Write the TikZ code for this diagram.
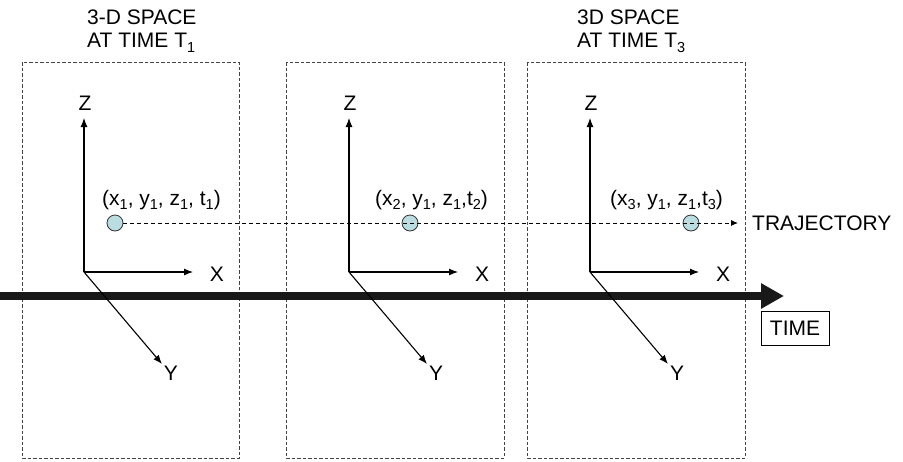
\documentclass[tikz,border=0pt]{standalone}
\usepackage{fontspec}
\setmainfont{Liberation Sans}
\usetikzlibrary{arrows.meta}
\definecolor{ptfill}{HTML}{B9DDE0}
\definecolor{boxgray}{HTML}{444444}
\newcommand\sbs[1]{\raisebox{-0.45ex}{\fontsize{14.5}{14.5}\selectfont #1}}
\begin{document}
\begin{tikzpicture}[x=1pt,y=-1pt,
  every node/.style={font=\fontsize{21}{23}\selectfont, inner sep=0pt},
  spacebox/.style={draw=boxgray, line width=0.9pt, dash pattern=on 3.5pt off 2pt},
  axis/.style={draw=black, line width=1.1pt, -{Latex[length=9pt,width=7pt]}},
  traj/.style={draw=black, line width=0.9pt, dash pattern=on 4pt off 3pt, -{Latex[length=7pt,width=6pt]}},
  pt/.style={circle, draw=black!80, line width=0.8pt, fill=ptfill, minimum size=16pt},
  timeline/.style={draw=black!90, line width=7.5pt, -{Triangle[length=23pt,width=24pt]}},
  timebox/.style={draw=black, line width=0.8pt, minimum width=68pt, minimum height=34pt}]
\useasboundingbox (0,0) rectangle (903,461);

% dashed space boxes
\draw[spacebox] (22,62) rectangle (239,458);
\draw[spacebox] (286,62) rectangle (504,458);
\draw[spacebox] (527,62) rectangle (745,458);

% titles
\node[anchor=north west, align=left] (title1) at (87,10) {3-D SPACE\\AT TIME T\sbs{1}};
\node[anchor=north west, align=left] (title3) at (577,10) {3D SPACE\\AT TIME T\sbs{3}};

% time line
\coordinate (tstart) at (0,296);
\coordinate (tend) at (784,296);
\draw[timeline] (tstart) -- (tend);
\node[timebox] (time) at (795,328) {TIME};

% axes
\foreach \i/\ox in {1/84, 2/349, 3/590}{
  \coordinate (o\i) at (\ox,272);
  \coordinate (zt\i) at (\ox,118);
  \coordinate (xt\i) at (\ox+109,272);
  \coordinate (yt\i) at (\ox+78,364);
  \draw[axis] (o\i) -- (zt\i);
  \draw[axis] (o\i) -- (xt\i);
  \draw[axis] (o\i) -- (yt\i);
  \node (zl\i) at (\ox+1,103) {Z};
  \node (xl\i) at (\ox+133,274.5) {X};
  \node (yl\i) at (\ox+87,373) {Y};
}

% trajectory points
\node[pt] (p1) at (115,223) {};
\node[pt] (p2) at (410,223) {};
\node[pt] (p3) at (691,223) {};
\coordinate (tr) at (738,223);
\draw[traj] (p1.east) -- (tr);

\node[anchor=base west] (l1) at (102,205) {(x\sbs{1}, y\sbs{1}, z\sbs{1}, t\sbs{1})};
\node[anchor=base west] (l2) at (375,205) {(x\sbs{2}, y\sbs{1}, z\sbs{1},t\sbs{2})};
\node[anchor=base west] (l3) at (610,205) {(x\sbs{3}, y\sbs{1}, z\sbs{1},t\sbs{3})};
\node[anchor=west] (trl) at (752,223) {TRAJECTORY};
\end{tikzpicture}
\end{document}
